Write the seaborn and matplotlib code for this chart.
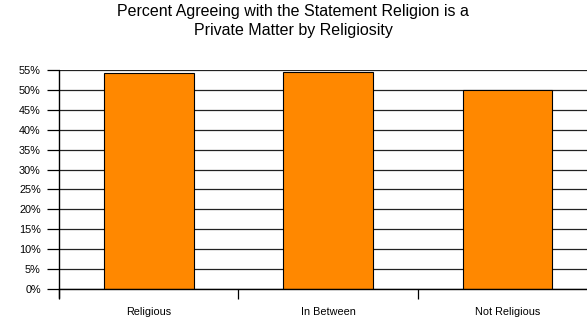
import matplotlib
matplotlib.use("Agg")
import matplotlib.pyplot as plt
import seaborn as sns
import pandas as pd
from matplotlib.ticker import PercentFormatter, FixedLocator

categories = ["Religious", "In Between", "Not Religious"]
values = [54.3, 54.5, 50.0]
yticks = list(range(0, 56, 5))

sns.set_theme(style="white")
plt.rcParams['font.family'] = ['Liberation Sans', 'DejaVu Sans']
plt.rcParams['text.color'] = 'black'

df = pd.DataFrame({"cat": categories, "val": values})

fig = plt.figure(figsize=(5.87, 3.22), dpi=100)
ax = fig.add_axes([59/587, 1-289/322, 538/587, 219/322])

sns.barplot(data=df, x="cat", y="val", color="#FF8800", width=0.5,
            edgecolor="black", linewidth=0.8, saturation=1, ax=ax, zorder=3)

ax.set_ylim(0, 55)
ax.set_xlim(-0.5, 2.5)
ax.set_yticks(yticks)
ax.yaxis.set_major_formatter(PercentFormatter(decimals=0))
ax.grid(axis="y", color="#222222", linewidth=0.9, zorder=0)
ax.set_axisbelow(True)
ax.set_xlabel("")
ax.set_ylabel("")

for s in ["top", "right", "left"]:
    ax.spines[s].set_visible(False)
ax.spines["bottom"].set_visible(True)
ax.spines["bottom"].set_color("black")
ax.spines["bottom"].set_linewidth(1.0)
ax.spines["bottom"].set_zorder(5)
ax.axvline(-0.5, ymin=-2.3/55, ymax=1, color="black", linewidth=1.0, clip_on=False, zorder=5)

ax.tick_params(axis="y", left=True, length=8.6, width=0.9, labelsize=7.8, pad=4.5, colors="black")
ax.xaxis.set_major_locator(FixedLocator([0, 1, 2]))
ax.set_xticklabels(categories)
ax.tick_params(axis="x", bottom=False, labelsize=7.8, pad=7, colors="black")
ax.xaxis.set_minor_locator(FixedLocator([-0.5, 0.5, 1.5, 2.5]))
ax.tick_params(axis="x", which="minor", bottom=True, length=7.5, width=0.9, color="black")

fig.text(293/587, 1-4/322, "Percent Agreeing with the Statement Religion is a\nPrivate Matter by Religiosity",
         ha="center", va="top", fontsize=11.5, linespacing=1.3, color="black")

fig.savefig("out.png", dpi=100)
